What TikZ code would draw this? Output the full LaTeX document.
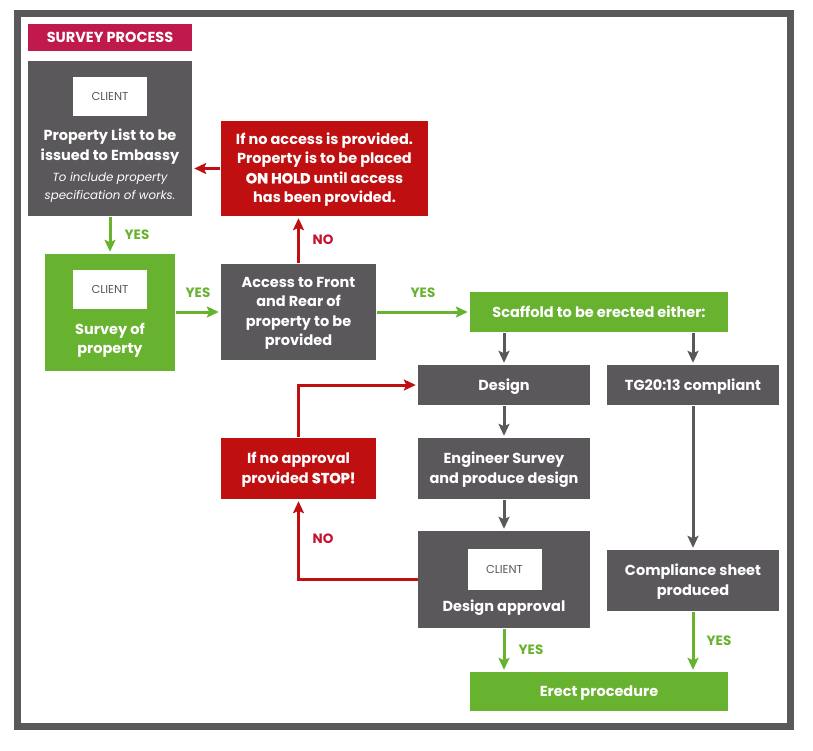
\documentclass[tikz,border=0pt]{standalone}
\usepackage{fontspec}
\setmainfont{Poppins}
\newfontfamily\heavyfont{Poppins}[BoldFeatures={FakeBold=1.5}]
\newcommand{\heavy}[1]{{\heavyfont\bfseries #1}}
\usetikzlibrary{arrows.meta}
\definecolor{sgray}{HTML}{5A585B}
\definecolor{sgreen}{HTML}{67B22F}
\definecolor{sred}{HTML}{C00F10}
\definecolor{scrim}{HTML}{C01A4C}
\definecolor{noclr}{HTML}{C4122F}
\begin{document}
\begin{tikzpicture}[x=1pt,y=-1pt,
  boxbase/.style={inner sep=0pt, align=center, text=white, font=\bfseries\fontsize{14.5}{19.5}\selectfont, text depth=1.5pt},
  graybox/.style={boxbase, fill=sgray},
  greenbox/.style={boxbase, fill=sgreen},
  redbox/.style={boxbase, fill=sred},
  clientbox/.style={fill=white, text=sgray, inner sep=0pt, minimum width=74pt, minimum height=39pt, font=\fontsize{11.5}{11.5}\selectfont},
  txt/.style={inner sep=0pt, align=center, text=white},
  yeslbl/.style={text=sgreen, font=\bfseries\fontsize{13.5}{14}\selectfont, inner sep=0pt},
  nolbl/.style={text=noclr, font=\bfseries\fontsize{13.5}{14}\selectfont, inner sep=0pt},
  tipA/.style={-{Stealth[length=12pt,width=11pt,inset=2.5pt]}, line width=3pt, shorten >=2pt, shorten <=1pt},
  garr/.style={tipA, draw=sgreen},
  rarr/.style={tipA, draw=sred},
  darr/.style={tipA, draw=sgray}
]
\useasboundingbox (0,0) rectangle (813,750);
\draw[sgray, line width=7pt] (17,13.5) rectangle (790.5,726.5);

\node[boxbase, text depth=0pt, fill=scrim, minimum width=164pt, minimum height=27pt] (title) at (110,37.5) {SURVEY PROCESS};

% box 1
\node[graybox, minimum width=164pt, minimum height=155pt] (box1) at (110,138.5) {};
\node[clientbox] (client1) at (110,96.5) {CLIENT};
\node[txt, font=\bfseries\fontsize{14.5}{19.5}\selectfont] (box1t) at (110,146.5) {Property List to be\\issued to Embassy};
\node[txt, font=\itshape\fontsize{11.8}{18.5}\selectfont] (box1i) at (110,187.5) {To include property\\specification of works.};

% red box 1
\node[redbox, minimum width=207pt, minimum height=95pt] (hold) at (324.5,168.5) {If no access is provided.\\Property is to be placed\\\heavy{ON HOLD} until access\\has been provided.};

% green survey
\node[greenbox, minimum width=130pt, minimum height=117pt] (survey) at (110,312.5) {};
\node[clientbox] (client2) at (110,289.5) {CLIENT};
\node[txt, font=\bfseries\fontsize{14.5}{19.5}\selectfont] (surveyt) at (110,340) {Survey of\\property};

% access
\node[graybox, minimum width=155pt, minimum height=96pt] (access) at (298.5,312) {Access to Front\\and Rear of\\property to be\\provided};

% scaffold
\node[greenbox, minimum width=258pt, minimum height=40pt] (scaffold) at (599,312) {Scaffold to be erected either:};

\node[graybox, minimum width=172pt, minimum height=40pt] (design) at (504,385) {Design};
\node[graybox, minimum width=172pt, minimum height=40pt] (tg) at (693,385) {TG20:13 compliant};
\node[graybox, minimum width=172pt, minimum height=61pt] (eng) at (504,468.5) {Engineer Survey\\and produce design};
\node[redbox, minimum width=155pt, minimum height=61pt] (stop) at (298.5,468.5) {If no approval\\provided \heavy{STOP!}};

\node[graybox, minimum width=172pt, minimum height=97pt] (approval) at (504,579.5) {};
\node[clientbox, minimum height=41pt] (client3) at (504.5,569) {CLIENT};
\node[txt, font=\bfseries\fontsize{14.5}{19.5}\selectfont] (approvalt) at (504,607.5) {Design approval};

\node[graybox, minimum width=172pt, minimum height=61pt] (comp) at (693,580.5) {Compliance sheet\\produced};
\node[greenbox, minimum width=258pt, minimum height=39pt] (erect) at (599,691.5) {Erect procedure};

% labels
\node[yeslbl] (y1) at (137,235) {YES};
\node[nolbl] (n1) at (323,240) {NO};
\node[yeslbl] (y2) at (198,293) {YES};
\node[yeslbl] (y3) at (423,293) {YES};
\node[nolbl] (n2) at (323,539) {NO};
\node[yeslbl] (y4) at (531,650) {YES};
\node[yeslbl] (y5) at (719,641) {YES};

% connectors
\draw[rarr] (hold.west) -- (hold.west -| box1.east);
\draw[garr] (box1.south) -- (survey.north);
\draw[garr] (survey.east |- access.west) -- (access.west);
\draw[rarr] (access.north) -- (access.north |- hold.south);
\draw[garr] (access.east) -- (scaffold.west);
\draw[darr] (design.north |- scaffold.south) -- (design.north);
\draw[darr] (tg.north |- scaffold.south) -- (tg.north);
\draw[darr] (design.south) -- (eng.north);
\draw[darr] (eng.south) -- (approval.north);
\draw[darr] (tg.south) -- (comp.north);
\draw[garr] (approval.south) -- (approval.south |- erect.north);
\draw[garr] (comp.south) -- (comp.south |- erect.north);
\draw[rarr, shorten <=0pt] (approval.west) -| (stop.south);
\draw[rarr] (stop.north) |- (design.west);
\end{tikzpicture}
\end{document}
